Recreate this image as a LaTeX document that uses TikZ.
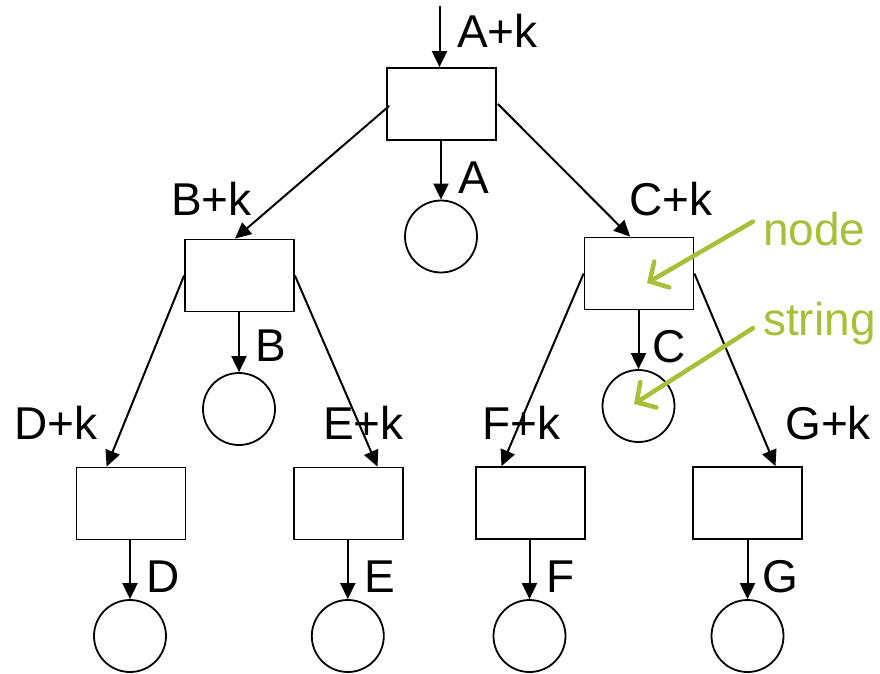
\documentclass[tikz,border=0pt]{standalone}
\usepackage{fontspec}
\setmainfont{Liberation Sans}
\usetikzlibrary{arrows.meta,calc}
\definecolor{lime}{RGB}{166,192,58}
\begin{document}
\begin{tikzpicture}[x=1pt,y=-1pt,
  box/.style={draw=black,line width=1.8pt,minimum width=109pt,minimum height=72pt,inner sep=0pt},
  leaf/.style={draw=black,line width=1.8pt,circle,minimum size=72pt,inner sep=0pt},
  conn/.style={line width=2pt,-{Triangle[length=16pt,width=15pt]}},
  lab/.style={anchor=base west,inner sep=0pt,font=\fontsize{46}{50}\selectfont},
  note/.style={lab,text=lime},
  pointer/.style={draw=lime,line width=4.5pt,line cap=round,-{Straight Barb[length=14pt,width=30pt,line cap=round]}}]
\useasboundingbox (0,0) rectangle (880,673);
% boxes
\node[box] (root) at (441.5,104) {};
\node[box] (nb) at (239.5,275.5) {};
\node[box] (nc) at (639,273.5) {};
\node[box] (nd) at (131,503.5) {};
\node[box] (ne) at (348.7,503.5) {};
\node[box] (nf) at (530.3,503) {};
\node[box] (ng) at (747.8,503) {};
% strings
\node[leaf] (ca) at (441,236.5) {};
\node[leaf] (cb) at (239,409) {};
\node[leaf] (cc) at (638.5,406) {};
\node[leaf] (cd) at (130,636) {};
\node[leaf] (ce) at (347.8,636) {};
\node[leaf] (cf) at (529.5,636) {};
\node[leaf] (cg) at (747.5,636) {};
% connectors
\coordinate (top) at (439.5,6);
\draw[conn] (top) -- (top |- root.north);
\draw[conn] (ca.north |- root.south) -- (ca.north);
\draw[conn] (cb.north |- nb.south) -- (cb.north);
\draw[conn] (cc.north |- nc.south) -- (cc.north);
\draw[conn] (cd.north |- nd.south) -- (cd.north);
\draw[conn] (ce.north |- ne.south) -- (ce.north);
\draw[conn] (cf.north |- nf.south) -- (cf.north);
\draw[conn] (cg.north |- ng.south) -- (cg.north);
\draw[conn] ($(root.west)+(3,2)$) -- ($(nb.north west)!0.46!(nb.north east)$);
\draw[conn] ($(root.east)+(1,0)$) -- ($(nc.north west)!0.42!(nc.north east)$);
\draw[conn] (nb.west) -- ($(nd.north west)!0.28!(nd.north east)$);
\draw[conn] (nb.east) -- ($(ne.north west)!0.76!(ne.north east)$);
\draw[conn] (nc.west) -- ($(nf.north west)!0.24!(nf.north east)$);
\draw[conn] (nc.east) -- ($(ng.north west)!0.75!(ng.north east)$);
% labels
\node[lab] (lak) at (457,47) {A+k};
\node[lab] (la) at (458,193) {A};
\node[lab] (lbk) at (171,215) {B+k};
\node[lab] (lck) at (629,215) {C+k};
\node[lab] (lb) at (255,361) {B};
\node[lab] (lc) at (652,362) {C};
\node[lab] (ldk) at (14,439) {D+k};
\node[lab] (lek) at (323,439) {E+k};
\node[lab] (lfk) at (482,439) {F+k};
\node[lab] (lgk) at (785,439) {G+k};
\node[lab] (ld) at (146,592) {D};
\node[lab] (le) at (364,592) {E};
\node[lab] (lf) at (546,592) {F};
\node[lab] (lg) at (762,592) {G};
% notes
\node[note] (nnode) at (763,245) {node};
\node[note] (nstr) at (763,335) {string};
\coordinate (tnode) at (647,283);
\coordinate (tstr) at (634,404);
\draw[pointer] ($(nnode.west)+(-10,-7)$) -- (tnode);
\draw[pointer] ($(nstr.west)+(-10,5)$) -- (tstr);
\end{tikzpicture}
\end{document}
